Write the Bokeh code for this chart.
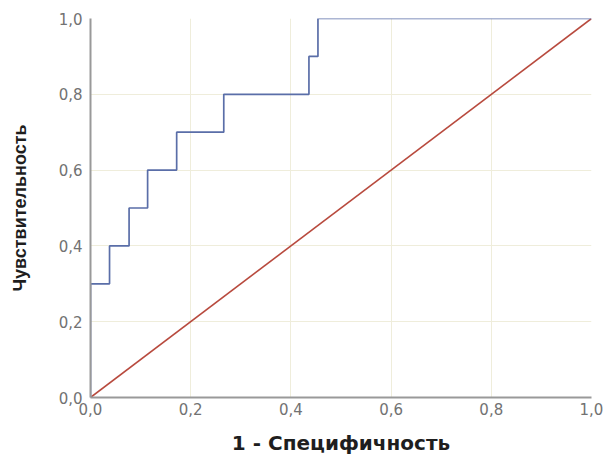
from bokeh.plotting import figure
from bokeh.models import FixedTicker, CustomJSTickFormatter, Range1d
from bokeh.embed import file_html
from bokeh.resources import INLINE

# ROC curve data (1 - specificity, sensitivity)
roc_fpr = [0.0, 0.0, 0.038, 0.038, 0.077, 0.077, 0.114, 0.114, 0.172, 0.172, 0.266, 0.266, 0.436, 0.436, 0.454, 0.454, 1.0]
roc_tpr = [0.0, 0.3, 0.3, 0.4, 0.4, 0.5, 0.5, 0.6, 0.6, 0.7, 0.7, 0.8, 0.8, 0.9, 0.9, 1.0, 1.0]
ref_x = [0.0, 1.0]
ref_y = [0.0, 1.0]
tick_values = [0.0, 0.2, 0.4, 0.6, 0.8, 1.0]

p = figure(width=606, height=457, output_backend="svg", toolbar_location=None,
           x_range=Range1d(0, 1), y_range=Range1d(0, 1),
           min_border_left=90, min_border_top=18, min_border_right=15, min_border_bottom=59)
p.outline_line_color = None
p.background_fill_color = "white"

p.line(ref_x, ref_y, line_color="#b84a3e", line_width=1.6)
p.line(roc_fpr, roc_tpr, line_color="#5a6ea8", line_width=1.7)

fmt = CustomJSTickFormatter(code="return tick.toFixed(1).replace('.', ',');")
for ax in (p.xaxis[0], p.yaxis[0]):
    ax.ticker = FixedTicker(ticks=tick_values)
    ax.formatter = fmt
    ax.major_tick_out = 0
    ax.major_tick_in = 0
    ax.minor_tick_out = 0
    ax.minor_tick_in = 0
    ax.axis_line_color = "#999999"
    ax.axis_line_width = 2
    ax.major_label_text_color = "#727272"
    ax.major_label_text_font = "DejaVu Sans"
    ax.major_label_text_font_size = "15px"
    ax.axis_label_text_color = "#1e1e1e"

p.xaxis.axis_label = "1 - Специфичность"
p.yaxis.axis_label = "Чувствительность"
p.xaxis.axis_label_text_font = "DejaVu Sans"
p.xaxis.axis_label_text_font_size = "20px"
p.xaxis.axis_label_text_font_style = "bold"
p.yaxis.axis_label_text_font = "Liberation Sans"
p.yaxis.axis_label_text_font_size = "18px"
p.yaxis.axis_label_text_font_style = "bold"
p.xaxis.major_label_standoff = 5
p.yaxis.major_label_standoff = 8
p.xaxis.axis_label_standoff = 13
p.yaxis.axis_label_standoff = 26

p.xgrid.grid_line_color = "#efeddb"
p.ygrid.grid_line_color = "#efeddb"
p.xgrid.ticker = FixedTicker(ticks=tick_values)
p.ygrid.ticker = FixedTicker(ticks=tick_values)

open("out.html", "w").write(file_html(p, INLINE))
